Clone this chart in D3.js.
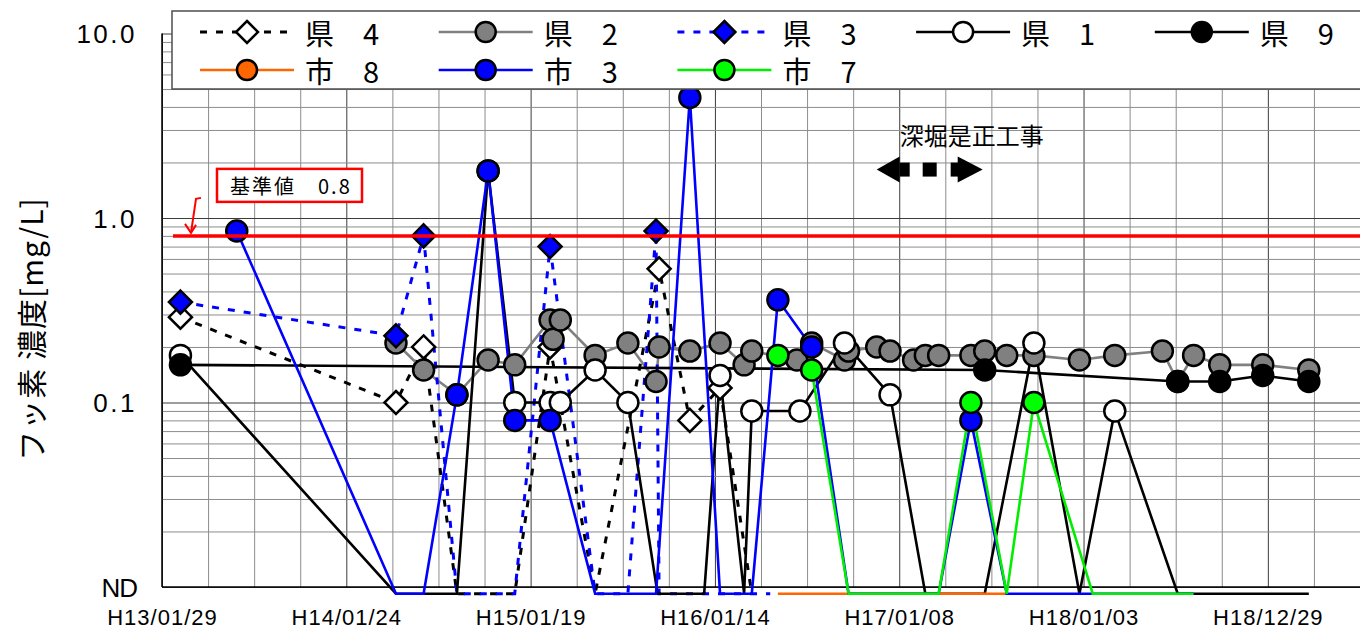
<!DOCTYPE html>
<html lang="ja">
<head>
<meta charset="utf-8">
<title>フッ素濃度の推移</title>
<script src="https://cdn.jsdelivr.net/npm/d3@7/dist/d3.min.js"></script>
<style>
  html, body { margin: 0; padding: 0; background: #fff; }
  svg { display: block; }
  text { font-family: "Noto Sans CJK JP", "Noto Sans", sans-serif; fill: #000; }
  .num { font-family: "Liberation Sans", Arial, sans-serif; }
</style>
</head>
<body>
<svg id="chart" width="1360" height="632"></svg>
<script>
// ---- data -------------------------------------------------------------
// sample dates (ISO) and fluoride concentration in mg/L; "ND" = not detected
const ken4 = [["2001-03-06",0.29],["2002-05-01",0.10],["2002-06-24",0.20],["2002-08-28","ND"],
  ["2002-12-19","ND"],["2003-02-26",0.20],["2003-05-25","ND"],["2003-09-27",0.53],
  ["2003-11-26",0.08],["2004-01-24",0.12],["2004-03-26","ND"]];
const ken2 = [["2002-05-01",0.21],["2002-06-24",0.15],["2002-08-28",0.11],["2002-10-28",0.17],
  ["2002-12-19",0.16],["2003-02-26",0.28],["2003-03-04",0.22],["2003-03-18",0.28],
  ["2003-05-25",0.18],["2003-07-28",0.21],["2003-09-21",0.13],["2003-09-27",0.20],
  ["2003-11-26",0.19],["2004-01-24",0.21],["2004-03-11",0.16],["2004-03-26",0.19],
  ["2004-06-22",0.17],["2004-07-21",0.21],["2004-09-23",0.17],["2004-10-01",0.19],
  ["2004-11-25",0.20],["2004-12-21",0.19],["2005-02-05",0.17],["2005-02-28",0.18],
  ["2005-03-26",0.18],["2005-05-28",0.18],["2005-06-24",0.19],["2005-08-06",0.18],
  ["2005-09-28",0.18],["2005-12-26",0.17],["2006-03-05",0.18],["2006-06-06",0.19],
  ["2006-07-06",0.13],["2006-08-06",0.18],["2006-09-26",0.16],["2006-12-19",0.16],
  ["2007-03-19",0.15]];
const ken3 = [["2001-03-06",0.35],["2002-05-01",0.23],["2002-06-24",0.80],["2002-08-28","ND"],
  ["2002-12-19","ND"],["2003-02-26",0.70],["2003-05-25","ND"],["2003-07-28","ND"],
  ["2003-09-21",0.85],["2003-09-27","ND"],["2004-01-24","ND"],["2004-05-01","ND"]];
const ken1 = [["2001-03-06",0.18],["2002-05-01","ND"],["2002-08-28","ND"],["2002-10-28",1.8],
  ["2002-12-19",0.10],["2003-02-26",0.10],["2003-03-18",0.10],["2003-05-25",0.15],
  ["2003-07-28",0.10],["2003-09-24","ND"],["2003-12-24","ND"],["2004-01-24",0.14],
  ["2004-03-11","ND"],["2004-03-26",0.09],["2004-06-28",0.09],["2004-09-23",0.21],
  ["2004-12-21",0.11],["2005-02-28","ND"],["2005-06-24","ND"],["2005-09-28",0.21],
  ["2005-12-26","ND"],["2006-03-05",0.09],["2006-07-06","ND"],["2007-03-19","ND"]];
const ken9 = [["2001-03-06",0.16],["2005-06-24",0.15],["2006-07-06",0.13],["2006-09-26",0.13],
  ["2006-12-19",0.14],["2007-03-19",0.13]];
const shi8 = [["2004-05-16","ND"],["2004-07-21","ND"],["2004-10-01","ND"],["2005-03-26","ND"],
  ["2005-05-28","ND"],["2005-08-06","ND"]];
const shi3 = [["2001-06-24",0.85],["2002-05-01","ND"],["2002-06-24","ND"],["2002-08-28",0.11],
  ["2002-10-28",1.8],["2002-12-19",0.08],["2003-02-26",0.08],["2003-05-25","ND"],
  ["2003-07-28","ND"],["2003-09-21","ND"],["2003-11-26",4.5],["2004-01-24","ND"],
  ["2004-03-26","ND"],["2004-05-16",0.36],["2004-07-21",0.20],["2004-10-01","ND"],
  ["2005-03-26","ND"],["2005-05-28",0.08],["2005-08-06","ND"],["2006-01-21","ND"],
  ["2006-08-06","ND"]];
const shi7 = [["2004-05-16",0.18],["2004-07-21",0.15],["2004-10-01","ND"],["2005-03-26","ND"],
  ["2005-05-28",0.10],["2005-08-06","ND"],["2005-09-28",0.10],["2006-01-21","ND"],
  ["2006-08-06","ND"]];

const seriesNames = ["県　4", "県　2", "県　3", "県　1", "県　9", "市　8", "市　3", "市　7"];
const seriesData  = [ken4, ken2, ken3, ken1, ken9, shi8, shi3, shi7];

const standardValue = 0.8;
const standardLabel = "基準値　0.8";
const workLabel = "深堀是正工事";

const xTickDates  = ["2001-01-29","2002-01-24","2003-01-19","2004-01-14","2005-01-08","2006-01-03","2006-12-29"];
const xTickLabels = ["H13/01/29","H14/01/24","H15/01/19","H16/01/14","H17/01/08","H18/01/03","H18/12/29"];
const yTickValues = [10, 1, 0.1, 0.01];
const yTickLabels = ["10.0", "1.0", "0.1", "ND"];
const yTitle = "フッ素 濃度[mg/L]";

// ---- styles -----------------------------------------------------------
const styles = [
  { stroke: "#000",    dash: "7,9", shape: "diamond", fill: "#fff" },
  { stroke: "#808080", dash: null,  shape: "circle",  fill: "#808080" },
  { stroke: "#0000ff", dash: "7,9", shape: "diamond", fill: "#0000ff" },
  { stroke: "#000",    dash: null,  shape: "circle",  fill: "#fff" },
  { stroke: "#000",    dash: null,  shape: "circle",  fill: "#000" },
  { stroke: "#ff6600", dash: null,  shape: "circle",  fill: "#ff6600" },
  { stroke: "#0000ff", dash: null,  shape: "circle",  fill: "#0000ff" },
  { stroke: "#00ee00", dash: null,  shape: "circle",  fill: "#00ff00" }
];

// ---- layout & scales --------------------------------------------------
const svg = d3.select("#chart");
const W = 1360, H = 632;
const plot = { left: 162, right: 1360, top: 33.5, bottom: 587 };
const parse = d3.utcParse("%Y-%m-%d");
const day0 = parse("2001-01-29");
const dayEnd = d3.utcDay.offset(day0, 2340);

const x = d3.scaleUtc().domain([day0, dayEnd]).range([plot.left, plot.right]);
const y = d3.scaleLog().domain([0.01, 10]).range([plot.bottom, plot.top]);
const ndPlotValue = 0.0092;   // not-detected results sit just under the axis floor

const series = seriesData.map((arr, i) => ({
  name: seriesNames[i],
  style: styles[i],
  points: arr.map(([d, v]) => ({ date: parse(d), v: v === "ND" ? null : v }))
}));

// ---- grid -------------------------------------------------------------
const minorX = d3.range(0, 2341, 90).map(n => d3.utcDay.offset(day0, n));
const gx = svg.append("g").attr("transform", `translate(0,${plot.bottom})`)
  .call(d3.axisBottom(x).tickValues(minorX).tickSize(-(plot.bottom - plot.top)).tickFormat(""));
gx.select(".domain").remove();
gx.selectAll(".tick line")
  .attr("stroke", (d, i) => (i % 4 === 0 ? "#3c3c3c" : "#8c8c8c"))
  .attr("stroke-width", 1);

const gridY = [];
[0.01, 0.1, 1].forEach(base => { for (let k = 1; k <= 9; k++) gridY.push(base * k); });
gridY.push(10);
const gy = svg.append("g").attr("transform", `translate(${plot.left},0)`)
  .call(d3.axisLeft(y).tickValues(gridY).tickSize(-(plot.right - plot.left)).tickFormat(""));
gy.select(".domain").remove();
gy.selectAll(".tick line")
  .attr("stroke", d => (Math.abs(Math.log10(d) - Math.round(Math.log10(d))) < 1e-6 ? "#3c3c3c" : "#8c8c8c"))
  .attr("stroke-width", 1);

// axis frame
svg.append("line").attr("x1", plot.left).attr("x2", plot.left)
  .attr("y1", plot.top).attr("y2", plot.bottom).attr("stroke", "#000").attr("stroke-width", 1.5);
svg.append("line").attr("x1", plot.left).attr("x2", plot.right)
  .attr("y1", plot.bottom).attr("y2", plot.bottom).attr("stroke", "#000").attr("stroke-width", 1.5);

// ---- tick labels ------------------------------------------------------
const axX = svg.append("g").attr("transform", `translate(0,${plot.bottom})`)
  .call(d3.axisBottom(x).tickValues(xTickDates.map(parse)).tickSize(0).tickPadding(22)
    .tickFormat((d, i) => xTickLabels[i]));
axX.select(".domain").remove();
axX.selectAll("text").attr("class", "num").style("font-size", "22px")
  .style("letter-spacing", "1px").attr("fill", "#000");

const axY = svg.append("g").attr("transform", `translate(${plot.left},0)`)
  .call(d3.axisLeft(y).tickValues(yTickValues).tickSize(0).tickPadding(25)
    .tickFormat((d, i) => yTickLabels[i]));
axY.select(".domain").remove();
axY.selectAll("text").attr("class", "num").style("font-size", "26px")
  .style("letter-spacing", (d, i) => (yTickLabels[i] === "ND" ? "-1px" : "2.5px"))
  .attr("dy", "0.36em").attr("fill", "#000");

svg.append("text")
  .attr("transform", "translate(30,329) rotate(-90)")
  .attr("text-anchor", "middle").attr("dominant-baseline", "central")
  .style("font-size", "30px").style("letter-spacing", "1px")
  .text(yTitle);

// ---- series -----------------------------------------------------------
const line = d3.line()
  .x(d => x(d.date))
  .y(d => y(d.v === null ? ndPlotValue : d.v));

const gLines = svg.append("g");
series.forEach(s => {
  gLines.append("path")
    .attr("d", line(s.points))
    .attr("fill", "none")
    .attr("stroke", s.style.stroke)
    .attr("stroke-width", s.style.dash ? 3 : 2.6)
    .attr("stroke-dasharray", s.style.dash)
    .attr("stroke-linejoin", "miter");
});

function markerPath(shape, r) {
  if (shape === "diamond") return `M0,${-r}L${r},0L0,${r}L${-r},0Z`;
  return d3.arc()({ innerRadius: 0, outerRadius: r, startAngle: 0, endAngle: 2 * Math.PI });
}

const gMarks = svg.append("g");
series.forEach(s => {
  gMarks.selectAll(null)
    .data(s.points.filter(p => p.v !== null))
    .join("path")
    .attr("transform", p => `translate(${x(p.date)},${y(p.v)})`)
    .attr("d", markerPath(s.style.shape, s.style.shape === "diamond" ? 11.5 : 10.5))
    .attr("fill", s.style.fill)
    .attr("stroke", "#000")
    .attr("stroke-width", 2.5);
});

// ---- standard value line and callout ----------------------------------
const yStd = y(standardValue);
svg.append("line")
  .attr("x1", 173).attr("x2", W).attr("y1", yStd).attr("y2", yStd)
  .attr("stroke", "#ff0000").attr("stroke-width", 3.5);

svg.append("rect")
  .attr("x", 217).attr("y", yStd - 67).attr("width", 145).attr("height", 33)
  .attr("fill", "#fff").attr("stroke", "#ff0000").attr("stroke-width", 2.5);
svg.append("text")
  .attr("x", 230).attr("y", yStd - 50).attr("dominant-baseline", "central")
  .style("font-size", "20px").style("letter-spacing", "2px")
  .text(standardLabel);

svg.append("path")
  .attr("d", `M201,${yStd - 38}L196,${yStd - 37}L191,${yStd - 3}`)
  .attr("fill", "none").attr("stroke", "#ff0000").attr("stroke-width", 2);
svg.append("path")
  .attr("d", `M185,${yStd - 12}L191,${yStd - 3}L196,${yStd - 11}`)
  .attr("fill", "none").attr("stroke", "#ff0000").attr("stroke-width", 2);

// ---- construction period annotation -----------------------------------
const xa0 = x(parse("2004-11-25")), xa1 = x(parse("2005-06-20"));
const ya = y(1.83);
svg.append("text")
  .attr("x", x(parse("2005-01-09"))).attr("y", y(2.5))
  .style("font-size", "24px").text(workLabel);
const arrow = svg.append("g").attr("fill", "#000");
arrow.append("path").attr("d", `M${xa0},${ya}L${xa0 + 23},${ya - 13}L${xa0 + 23},${ya + 13}Z`);
arrow.append("rect").attr("x", xa0 + 23).attr("y", ya - 7).attr("width", 10).attr("height", 14);
arrow.append("rect").attr("x", (xa0 + xa1) / 2 - 7).attr("y", ya - 7).attr("width", 14).attr("height", 14);
arrow.append("rect").attr("x", xa1 - 32).attr("y", ya - 7).attr("width", 8).attr("height", 14);
arrow.append("path").attr("d", `M${xa1},${ya}L${xa1 - 25},${ya - 13}L${xa1 - 25},${ya + 13}Z`);

// ---- legend -----------------------------------------------------------
const legend = svg.append("g");
legend.append("rect")
  .attr("x", 172).attr("y", 11).attr("width", W - 172 + 10).attr("height", 78)
  .attr("fill", "#fff").attr("stroke", "#4d4d4d").attr("stroke-width", 1.5);

series.forEach((s, i) => {
  const row = i < 5 ? 0 : 1;
  const col = i < 5 ? i : i - 5;
  const cx = 247 + col * 238.7;
  const cy = row === 0 ? 32 : 70;
  const g = legend.append("g").attr("transform", `translate(${cx},${cy})`);
  g.append("line").attr("x1", -47).attr("x2", 47)
    .attr("stroke", s.style.stroke).attr("stroke-width", s.style.dash ? 3 : 2.6)
    .attr("stroke-dasharray", s.style.dash);
  g.append("path")
    .attr("d", markerPath(s.style.shape, s.style.shape === "diamond" ? 11 : 10))
    .attr("fill", s.style.fill).attr("stroke", "#000").attr("stroke-width", 2.5);
  g.append("text").attr("x", 58).attr("dominant-baseline", "central")
    .style("font-size", "29px").text(s.name);
});
</script>
</body>
</html>
